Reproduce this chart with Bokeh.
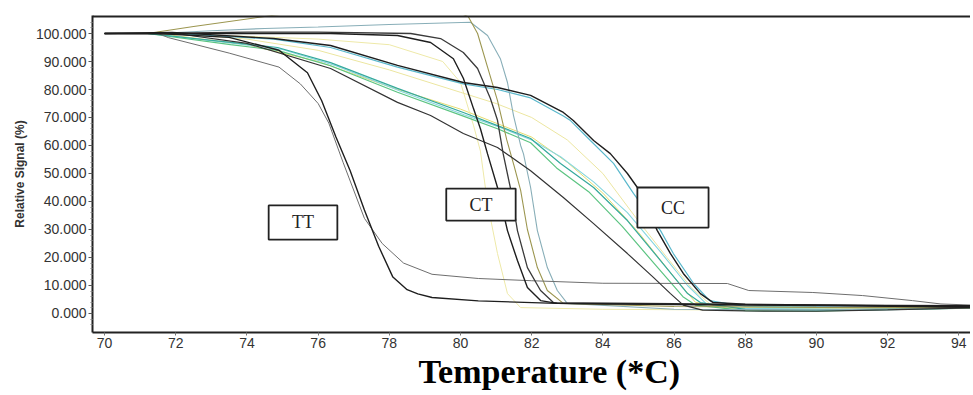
from bokeh.plotting import figure
from bokeh.models import BoxAnnotation, Label, Span, NumeralTickFormatter, FixedTicker, Range1d, Title
from bokeh.embed import file_html
from bokeh.resources import INLINE

# ---- data (temperature in °C, relative signal in %) ----
tt_black_x = [70, 71.5, 73.5, 74.9, 75.7, 76.1, 76.5, 76.9, 77.3, 77.7, 78.1, 78.5, 78.8, 79.2, 80.5, 82.7, 86, 90, 94.4]
tt_black_y = [100, 100, 98.6, 94, 86, 76, 63, 51, 37, 24, 13, 8.5, 7, 5.7, 4.5, 3.6, 3.2, 3.0, 2.8]

tt_gray_x = [70, 71.5, 71.8, 73.5, 74.9, 75.5, 76.0, 76.3, 76.7, 77.3, 77.8, 78.4, 79.2, 80.5, 82, 84, 87.5, 88.1, 89.9, 91.3, 92.7, 93.5, 94.4]
tt_gray_y = [100, 100, 98.5, 93, 88, 82, 75, 68, 54, 34, 25, 18, 14, 12.5, 11.7, 10.8, 10.7, 8.2, 7.5, 6.4, 4.6, 3.4, 3.0]

ct_black1_x = [70, 71.5, 74, 76.35, 78.23, 79.16, 79.8, 80.08, 80.37, 80.56, 80.76, 81.04, 81.32, 81.6, 81.88, 82.25, 82.72, 86, 90, 94.4]
ct_black1_y = [100, 100, 100, 100, 99.3, 96.8, 91, 84, 73, 66, 57, 45, 29.6, 18.9, 9.3, 4.6, 3.6, 3.3, 2.8, 2.3]

ct_black2_x = [70, 71.5, 74, 76, 78.6, 79.44, 80.08, 80.48, 80.84, 81.04, 81.2, 81.4, 81.6, 81.88, 82.25, 82.61, 86, 90, 94.4]
ct_black2_y = [100, 100, 100.5, 100.5, 100, 98.2, 93.2, 87.5, 76.8, 69, 57, 45, 29.6, 16.4, 8.2, 3.9, 3.5, 3.0, 2.4]

ct_olive_x = [70, 71.2, 72.5, 74.75, 76, 78, 79.5, 80.22, 80.48, 80.76, 81.04, 81.3, 81.5, 81.69, 81.88, 82.16, 82.44, 82.89, 86, 90, 94.4]
ct_olive_y = [100, 100, 102.5, 106.5, 108.5, 110, 110, 106, 100, 88, 76, 62, 53, 44, 30, 16.4, 8.2, 3.6, 2.5, 2.2, 2.0]

ct_cyan_x = [70, 71.5, 73, 74.5, 76, 78, 80.28, 80.76, 81.12, 81.32, 81.49, 81.69, 81.77, 81.97, 82.16, 82.44, 82.72, 83.0, 86, 90, 94.4]
ct_cyan_y = [100, 100, 101, 101.8, 102.3, 103.2, 104, 99.3, 91, 82.5, 70.7, 60, 57, 45, 29.6, 16.4, 8.2, 3.6, 1.5, 1.3, 2.0]

ct_pale_x = [70, 71.5, 74, 76, 78, 79.5, 80.0, 80.37, 80.56, 80.76, 81.04, 81.32, 81.69, 84, 88, 94.4]
ct_pale_y = [100, 100, 99, 98, 96, 90, 82.5, 67, 58, 39.3, 21.4, 7.1, 2.1, 1.5, 1.2, 1.8]

cc_black_x = [70, 71.9, 74.75, 76.35, 78.23, 80.08, 81.04, 81.97, 82.89, 83.17, 83.74, 84.21, 84.69, 84.97, 85.53, 85.9, 86.26, 86.74, 87.1, 88, 92, 94.4]
cc_black_y = [100, 100.4, 98.2, 95.7, 88.6, 82.5, 80.7, 77.9, 71.8, 68.9, 61.8, 57.1, 50, 45, 29.6, 21.4, 14.3, 7.1, 3.9, 3.3, 2.8, 2.2]

cc_cyan_x = [70, 72, 74.75, 76.35, 78.23, 80.08, 81.04, 81.97, 82.89, 83.09, 83.65, 84.3, 84.86, 85.62, 85.98, 86.55, 87.0, 88, 92, 94.4]
cc_cyan_y = [100, 100, 98, 95, 88, 82, 80, 77, 70.5, 68.9, 61.8, 53.6, 42.9, 29.6, 21.4, 10.7, 4.6, 2.5, 2.2, 2.0]

cc_teal_x = [70, 71.2, 73.54, 74.86, 76.35, 78.23, 80.08, 81.04, 81.97, 82.81, 83.74, 84.69, 85.62, 86.38, 86.74, 88, 90, 92, 94.4]
cc_teal_y = [100, 100, 96.8, 95, 89.6, 80.4, 71.8, 67.1, 62.5, 53.6, 45, 33.2, 18.9, 7.1, 3.9, 1.5, 1.2, 1.4, 1.9]

cc_green_x = [70, 71.2, 73.54, 74.86, 76.35, 78.23, 80.08, 81.04, 81.97, 82.7, 83.6, 84.55, 85.5, 86.25, 86.6, 88, 90, 92, 94.4]
cc_green_y = [100, 100, 96, 94, 88.5, 79, 70.5, 66, 61, 52, 43.5, 31, 17, 6, 3, 1.0, 0.8, 1.5, 2.0]

cc_cyan2_x = [70, 71.3, 73.6, 75, 76.5, 78.3, 80.1, 81.1, 82, 82.81, 83.74, 84.69, 85.62, 86.38, 86.9, 88, 91, 94.4]
cc_cyan2_y = [100, 100, 96.5, 94.3, 88.5, 79.5, 71, 66.5, 62, 56, 47, 36, 22, 10, 3.5, 1.8, 1.5, 2.0]

cc_dark_x = [70, 72, 74, 76.35, 78.23, 79.16, 80.08, 81.04, 81.97, 82.89, 83.74, 84.69, 85.42, 85.9, 86.26, 86.8, 88, 90, 92, 94.4]
cc_dark_y = [100, 100, 96.5, 87.5, 75.4, 70.7, 64.3, 59.3, 51, 41.4, 32.1, 21.4, 12.9, 7.1, 3, 1.2, 0.9, 0.8, 1.3, 2.0]

cc_pale_x = [70, 72, 74, 76, 78, 80, 81, 82, 83, 84, 85, 85.8, 86.5, 87, 88, 92, 94.4]
cc_pale_y = [100, 100, 98, 94, 87, 79, 75, 70, 62, 50, 33, 20, 9, 3.5, 2.0, 1.8, 2.0]

cc_yellow_x = [70, 71.5, 74, 76, 78, 80, 81, 82, 83, 84, 85, 86, 86.6, 87.5, 90.5, 94.4]
cc_yellow_y = [100, 100, 96, 90, 81, 73, 68, 63, 54, 43, 29, 13, 4, 1.9, 2.0, 2.0]

y_ticks = [0, 10, 20, 30, 40, 50, 60, 70, 80, 90, 100]
x_ticks = [70, 72, 74, 76, 78, 80, 82, 84, 86, 88, 90, 92, 94]

group_labels = ["TT", "CT", "CC"]
group_box_left = [74.61, 79.6, 84.97]
group_box_right = [76.54, 81.55, 86.97]
group_box_bottom = [26.4, 33.2, 30.7]
group_box_top = [38.6, 44.6, 45.0]

curves = [
    (cc_pale_x, cc_pale_y, "#ece6a0", 1.0),
    (cc_yellow_x, cc_yellow_y, "#e4dc70", 1.0),
    (ct_pale_x, ct_pale_y, "#eee9a8", 1.0),
    (cc_cyan2_x, cc_cyan2_y, "#86d6de", 1.1),
    (cc_green_x, cc_green_y, "#5cc482", 1.2),
    (cc_teal_x, cc_teal_y, "#35a99c", 1.2),
    (cc_cyan_x, cc_cyan_y, "#5ab8cc", 1.2),
    (ct_cyan_x, ct_cyan_y, "#88aeb8", 1.1),
    (ct_olive_x, ct_olive_y, "#9c9650", 1.1),
    (tt_gray_x, tt_gray_y, "#6e6e6e", 1.0),
    (cc_dark_x, cc_dark_y, "#333333", 1.2),
    (ct_black2_x, ct_black2_y, "#3a3a3a", 1.3),
    (ct_black1_x, ct_black1_y, "#1e1e1e", 1.4),
    (cc_black_x, cc_black_y, "#1e1e1e", 1.4),
    (tt_black_x, tt_black_y, "#1e1e1e", 1.4),
]

p = figure(width=970, height=392, output_backend="svg", toolbar_location=None,
           x_range=Range1d(69.66, 94.33), y_range=Range1d(-6.79, 106.43),
           min_border_left=92, min_border_top=15, min_border_right=0, min_border_bottom=60)
p.background_fill_color = "white"
p.border_fill_color = "white"
p.outline_line_color = None
p.grid.visible = False

for xs, ys, col, w in curves:
    p.line(xs, ys, line_color=col, line_width=w)

for lab, l, r, b, t in zip(group_labels, group_box_left, group_box_right, group_box_bottom, group_box_top):
    p.add_layout(BoxAnnotation(left=l, right=r, bottom=b, top=t, fill_color="white", fill_alpha=1.0,
                               line_color="#222222", line_alpha=1.0, line_width=1.8))
    p.add_layout(Label(x=(l + r) / 2, y=(b + t) / 2, text=lab, text_align="center", text_baseline="middle",
                       text_font="Liberation Serif", text_font_size="18px", text_color="#222222"))

p.add_layout(Span(location=106.2, dimension="width", line_color="#222222", line_width=2.5))

yax = p.yaxis[0]
yax.ticker = FixedTicker(ticks=y_ticks, minor_ticks=[v + d for v in [-10] + y_ticks for d in (2, 4, 6, 8) if -6 < v + d < 106])
yax.formatter = NumeralTickFormatter(format="0.000")
yax.axis_label = "Relative Signal (%)"
yax.axis_label_text_font = "Liberation Sans"
yax.axis_label_text_font_style = "bold"
yax.axis_label_text_font_size = "12px"
yax.axis_label_text_color = "#333333"
yax.axis_label_standoff = 6
yax.major_label_text_font = "Liberation Sans"
yax.major_label_text_font_size = "14px"
yax.major_label_text_color = "#333333"
yax.axis_line_color = "#222222"
yax.axis_line_width = 2
yax.major_tick_out = 4
yax.major_tick_in = 0
yax.minor_tick_out = 2
yax.minor_tick_in = 0
yax.major_tick_line_color = "#555555"
yax.minor_tick_line_color = "#888888"
yax.major_label_standoff = 2

xax = p.xaxis[0]
xax.ticker = FixedTicker(ticks=x_ticks)
xax.major_label_text_font = "Liberation Sans"
xax.major_label_text_font_size = "14px"
xax.major_label_text_color = "#333333"
xax.axis_line_color = "#222222"
xax.axis_line_width = 2
xax.major_tick_out = 3
xax.major_tick_in = 0
xax.minor_tick_line_color = None
xax.major_tick_line_color = "#777777"
xax.major_label_standoff = 2

xtitle = Title(text="Temperature (*C)", align="left", offset=326, standoff=0,
               text_font="Liberation Serif", text_font_style="bold", text_font_size="34px",
               text_color="black")
p.add_layout(xtitle, "below")

open("out.html", "w").write(file_html(p, INLINE))
